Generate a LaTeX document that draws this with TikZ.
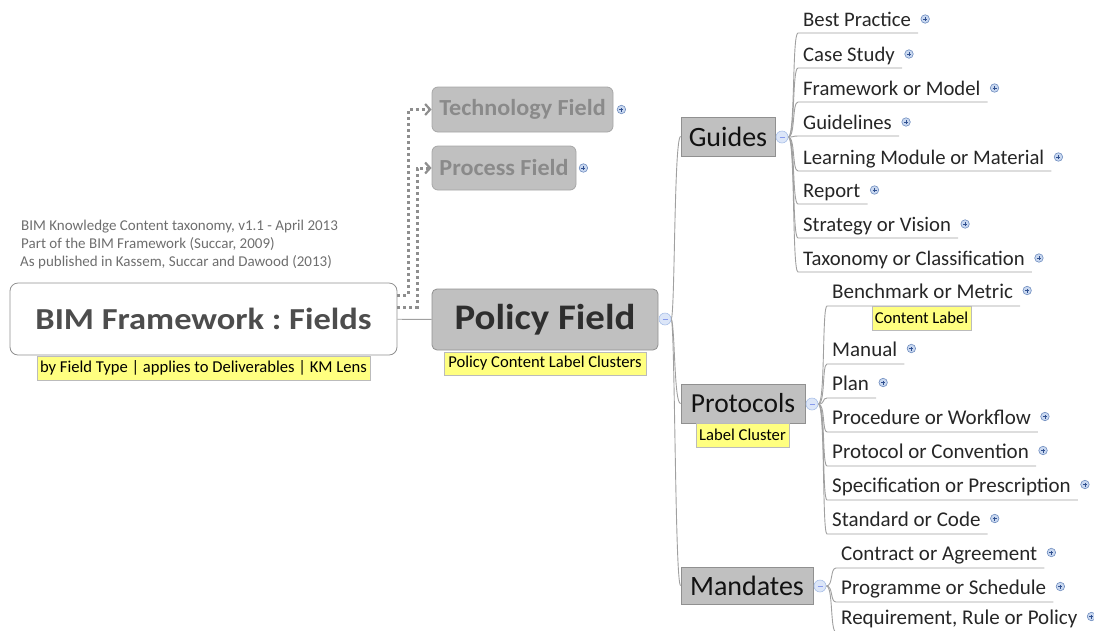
\documentclass[tikz,border=0pt]{standalone}
\usepackage{fontspec}
\setmainfont{Carlito}
\newfontfamily\rootfont[FakeStretch=1.13]{Carlito}
\newfontfamily\polfont[FakeStretch=1.08]{Carlito}
\newfontfamily\fieldfont[FakeStretch=1.05]{Carlito}
\frenchspacing
\usetikzlibrary{arrows.meta}
\pgfdeclarelayer{bg}
\pgfsetlayers{bg,main}
\definecolor{boxgray}{HTML}{C0C0C0}
\definecolor{boxedge}{HTML}{909090}
\definecolor{conncol}{HTML}{A0A0A0}
\definecolor{dotcol}{HTML}{8E8E8E}
\definecolor{lblyellow}{HTML}{FFFF80}
\definecolor{lbledge}{HTML}{BBBBBB}
\definecolor{iconfill}{HTML}{C9D8F0}
\definecolor{iconedge}{HTML}{6F8DBF}
\definecolor{iconmark}{HTML}{2F4F8F}
\definecolor{minfill}{HTML}{DCE6F8}
\definecolor{minedge}{HTML}{A9C0E8}
\definecolor{notecol}{HTML}{6E6E6E}
\definecolor{roottext}{HTML}{4D4D4D}
\definecolor{fadetext}{HTML}{8A8A8A}
\tikzset{
  conn/.style={draw=conncol, line width=0.9pt},
  dotline/.style={draw=dotcol, line width=3pt, dash pattern=on 3pt off 3pt, -{Straight Barb[length=5pt,width=11pt,line width=2.2pt]}},
  leaf/.style={inner sep=0pt, text=black!85},
  plusicon/.style={circle, minimum size=8.5pt, inner sep=0pt, fill=iconfill, draw=iconedge, line width=0.6pt,
    path picture={\draw[iconmark, line width=0.8pt] ([xshift=-2pt]path picture bounding box.center) -- ([xshift=2pt]path picture bounding box.center)
      ([yshift=-2pt]path picture bounding box.center) -- ([yshift=2pt]path picture bounding box.center);}},
  minusicon/.style={circle, minimum size=12pt, inner sep=0pt, fill=minfill, draw=minedge, line width=0.6pt,
    path picture={\draw[minedge!80!blue, line width=0.8pt] ([xshift=-2.5pt]path picture bounding box.center) -- ([xshift=2.5pt]path picture bounding box.center);}},
  fieldbox/.style={draw=boxedge, fill=boxgray, rounded corners=6pt, line width=0.8pt, inner sep=0pt},
  clusterbox/.style={draw=boxedge, fill=boxgray, line width=0.8pt, inner sep=0pt, text=black!93},
  lbl/.style={draw=lbledge, fill=lblyellow, line width=0.6pt, inner sep=0pt, font=\fontsize{16.6}{18}\selectfont},
  note/.style={inner sep=0pt, text=notecol, font=\fontsize{15}{17}\selectfont, anchor=base west}
}
% #1 name, #2 text x, #3 underline y, #4 baseline offset, #5 text, #6 parent icon, #7 vertical x, #8 font size
\newcommand\mleaf[8]{%
  \node[leaf, font=\fontsize{#8}{#8}\selectfont, anchor=base west] (#1) at (#2,#3-#4) {#5};
  \node[plusicon] (#1i) at ([xshift=14pt,yshift=7.5pt]#1.base east) {};
  \coordinate (#1s) at (#2-5,#3);
  \coordinate (#1e) at ([xshift=7pt,yshift=-#4pt]#1.base east);
  \begin{pgfonlayer}{bg}
    \draw[conn] (#6.east) .. controls ([xshift=7pt]#6.east) and (#7,#3) .. (#1s) -- (#1e);
  \end{pgfonlayer}
}
\begin{document}
\begin{tikzpicture}[x=1pt,y=-1pt]
\useasboundingbox (0,0) rectangle (1094,630);

% notes
\node[note] (n1) at (21,230) {BIM Knowledge Content taxonomy, v1.1 - April 2013};
\node[note] (n2) at (21,248) {Part of the BIM Framework (Succar, 2009)};
\node[note] (n3) at (20,266) {As published in Kassem, Succar and Dawood (2013)};

% root
\node[draw=boxedge, fill=white, rounded corners=8pt, line width=0.8pt, minimum width=387pt, minimum height=72pt, inner sep=0pt,
  font=\rootfont\fontsize{30.5}{31}\selectfont\bfseries, text=roottext] (root) at (203.5,319) {BIM Framework : Fields};
\node[lbl, minimum width=333pt, minimum height=24pt] (rootlbl) at (203.5,368) {by Field Type | applies to Deliverables | KM Lens};

% fields
\node[fieldbox, draw=boxedge!80, minimum width=181pt, minimum height=45pt, text=fadetext, font=\fieldfont\fontsize{23}{24}\selectfont\bfseries] (tech) at (522.5,109.5) {Technology Field};
\node[plusicon] (techi) at ([xshift=8pt]tech.east) {};
\node[fieldbox, draw=boxedge!80, minimum width=144pt, minimum height=44pt, text=fadetext, font=\fieldfont\fontsize{23}{24}\selectfont\bfseries] (proc) at (504,168) {Process Field};
\node[plusicon] (proci) at ([xshift=7pt]proc.east) {};
\node[fieldbox, rounded corners=5pt, minimum width=226pt, minimum height=61pt, text=black!82, font=\polfont\fontsize{36}{38}\selectfont\bfseries] (policy) at (545,319.5) {Policy Field};
\node[lbl, minimum width=202pt, minimum height=23pt] (pollbl) at (545,363.5) {Policy Content Label Clusters};
\node[minusicon] (pd) at (665,319) {};

% dotted links
\coordinate (c1) at (408,295);
\coordinate (c2) at (417,307);
\draw[dotline] ([yshift=24pt]root.east) -- (c1) |- (tech.west);
\draw[dotline] ([yshift=12pt]root.east) -- (c2) |- (proc.west);
\begin{pgfonlayer}{bg}
\draw[conn] (root) -- (policy);
\end{pgfonlayer}

% clusters
\node[clusterbox, minimum width=94pt, minimum height=39pt, font=\fontsize{28}{30}\selectfont] (guides) at (728,136.5) {Guides};
\node[minusicon] (gd) at (782,137) {};
\node[clusterbox, minimum width=124pt, minimum height=39pt, font=\fontsize{27.5}{30}\selectfont] (prot) at (743,403.5) {Protocols};
\node[lbl, minimum width=93pt, minimum height=24pt] (protlbl) at (742.5,435) {Label Cluster};
\node[minusicon] (prd) at (812,404) {};
\node[clusterbox, minimum width=132pt, minimum height=37pt, font=\fontsize{28}{30}\selectfont] (mand) at (747,585.5) {Mandates};
\node[minusicon] (md) at (820,586) {};

\begin{pgfonlayer}{bg}
\draw[conn] (pd.east) .. controls (675,312) and (674,137) .. (guides.west);
\draw[conn] (pd.east) .. controls (675,326) and (674,404) .. (prot.west);
\draw[conn] (pd.east) .. controls (675,326) and (675,586) .. (mand.west);
\end{pgfonlayer}

% guides leaves
\mleaf{g1}{803}{33}{6.5}{Best Practice}{gd}{792}{20.7}
\mleaf{g2}{803}{68}{6.5}{Case Study}{gd}{792}{20.7}
\mleaf{g3}{803}{102}{6.5}{Framework or Model}{gd}{792}{20.7}
\mleaf{g4}{803}{136}{6.5}{Guidelines}{gd}{792}{20.7}
\mleaf{g5}{803}{171}{6.5}{Learning Module or Material}{gd}{792}{20.7}
\mleaf{g6}{803}{204}{6.5}{Report}{gd}{792}{20.7}
\mleaf{g7}{803}{238}{6.5}{Strategy or Vision}{gd}{792}{20.7}
\mleaf{g8}{803}{272}{6.5}{Taxonomy or Classification}{gd}{792}{20.7}

% protocols leaves
\mleaf{p1}{832}{306}{8}{Benchmark or Metric}{prd}{822}{21}
\node[lbl, minimum width=99pt, minimum height=24pt] (contlbl) at (921.5,318) {Content Label};
\mleaf{p2}{832}{364}{8}{Manual}{prd}{822}{21}
\mleaf{p3}{832}{398}{8}{Plan}{prd}{822}{21}
\mleaf{p4}{832}{432}{8}{Procedure or Workflow}{prd}{822}{21}
\mleaf{p5}{832}{466}{8}{Protocol or Convention}{prd}{822}{21}
\mleaf{p6}{832}{500}{8}{Specification or Prescription}{prd}{822}{21}
\mleaf{p7}{832}{534}{8}{Standard or Code}{prd}{822}{21}

% mandates leaves
\mleaf{m1}{841}{568}{8}{Contract or Agreement}{md}{830}{21}
\mleaf{m2}{841}{602}{8}{Programme or Schedule}{md}{830}{21}
\mleaf{m3}{841}{632}{8}{Requirement, Rule or Policy}{md}{830}{21}
\end{tikzpicture}
\end{document}
